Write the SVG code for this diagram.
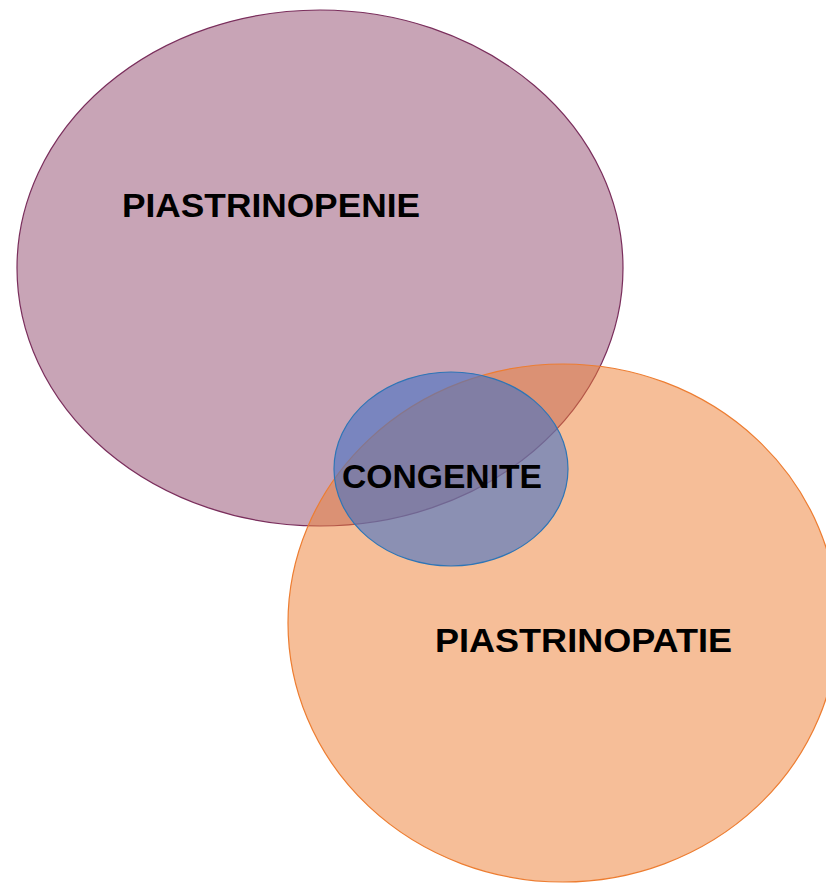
<svg xmlns="http://www.w3.org/2000/svg" width="826" height="883" viewBox="0 0 826 883">
  <style>
    .label { font-family: "Comic Sans MS", "Liberation Sans", "DejaVu Sans", sans-serif; font-weight: bold; font-size: 33px; fill: #000; }
  </style>
  <rect width="826" height="883" fill="#ffffff"/>
  <g id="piastrinopenie">
    <ellipse cx="320" cy="268" rx="303" ry="258" fill="#91496D" fill-opacity="0.5" stroke="#7a2e5c" stroke-width="1.2"/>
    <text class="label" x="122" y="217" textLength="298" lengthAdjust="spacingAndGlyphs">PIASTRINOPENIE</text>
  </g>
  <g id="piastrinopatie">
    <ellipse cx="563" cy="623" rx="275" ry="259" fill="#ED7D31" fill-opacity="0.5" stroke="#ED7D31" stroke-width="1.2"/>
    <text class="label" x="435" y="652" textLength="297" lengthAdjust="spacingAndGlyphs">PIASTRINOPATIE</text>
  </g>
  <g id="congenite">
    <ellipse cx="451" cy="469" rx="117" ry="97" fill="#4472C4" fill-opacity="0.6" stroke="#2E75B6" stroke-width="1.2"/>
    <text class="label" x="342" y="488" textLength="200" lengthAdjust="spacingAndGlyphs">CONGENITE</text>
  </g>
  <g id="connectors"/>
</svg>
